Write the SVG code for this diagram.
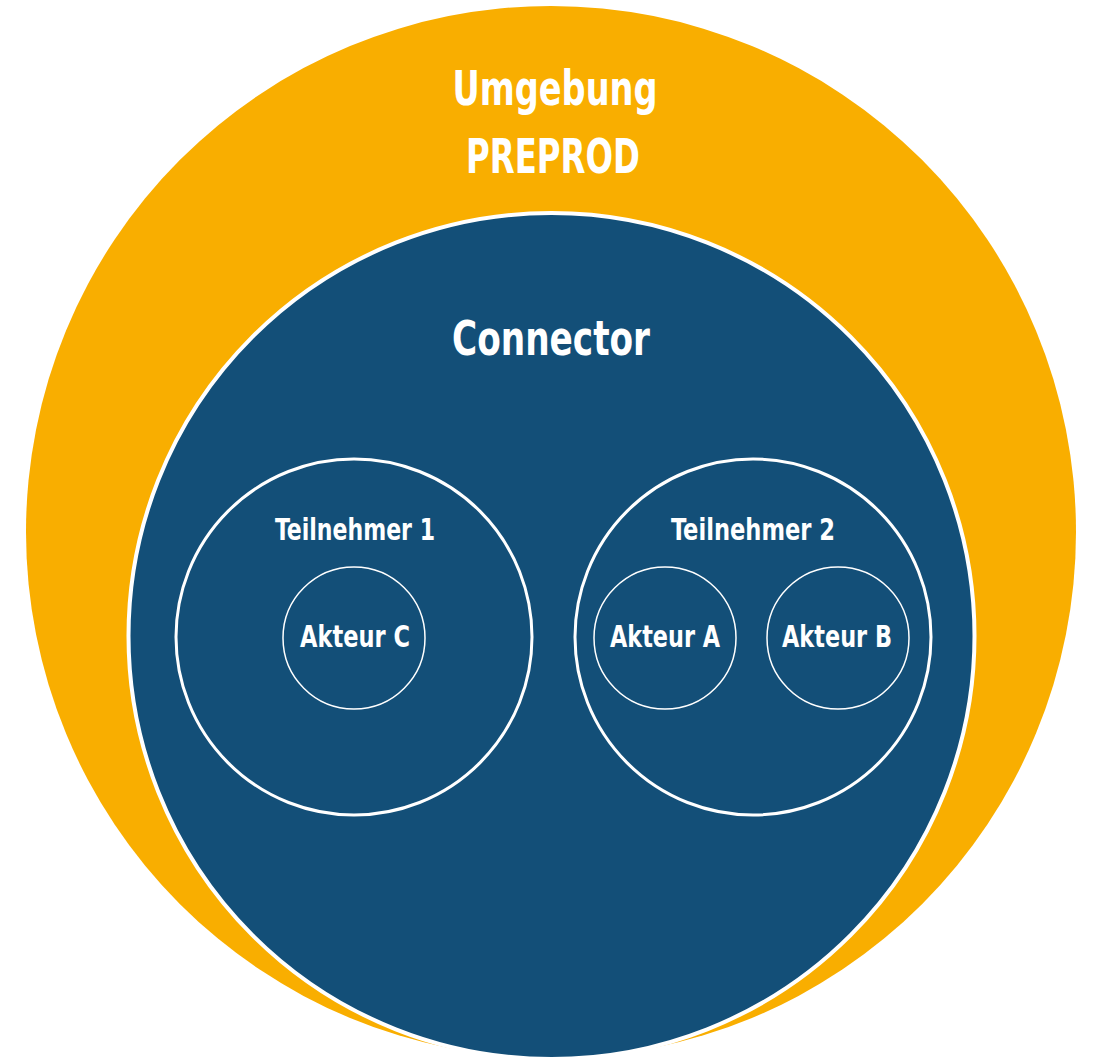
<svg xmlns="http://www.w3.org/2000/svg" width="1103" height="1064" viewBox="0 0 1103 1064">
<style>
text{font-family:"DejaVu Sans Condensed","Roboto","Liberation Sans",sans-serif;fill:#fff;text-anchor:middle;font-weight:bold}
.big{font-size:48px}
.mid{font-size:31px}
.ring{fill:none;stroke:#fff;stroke-width:3}
.small{fill:none;stroke:#fff;stroke-width:1.5}
</style>
<rect width="1103" height="1064" fill="#fff"/>
<g id="umgebung">
<ellipse cx="551" cy="532" rx="525" ry="526" fill="#f9ae00"/>
<text class="big" x="555" y="105" textLength="205" lengthAdjust="spacingAndGlyphs">Umgebung</text>
<text class="big" x="553" y="173" textLength="174" lengthAdjust="spacingAndGlyphs">PREPROD</text>
</g>
<g id="connector">
<circle cx="551.5" cy="636" r="423" fill="#134f78" stroke="#fff" stroke-width="4"/>
<text class="big" x="551" y="355" textLength="198" lengthAdjust="spacingAndGlyphs">Connector</text>
</g>
<g id="teilnehmer1">
<circle class="ring" cx="354" cy="637" r="178"/>
<text class="mid" x="355" y="540" textLength="160" lengthAdjust="spacingAndGlyphs">Teilnehmer 1</text>
</g>
<g id="teilnehmer2">
<circle class="ring" cx="753" cy="637" r="178"/>
<text class="mid" x="753" y="540" textLength="164" lengthAdjust="spacingAndGlyphs">Teilnehmer 2</text>
</g>
<g id="akteurC">
<circle class="small" cx="354" cy="638" r="71"/>
<text class="mid" x="355" y="647" textLength="110" lengthAdjust="spacingAndGlyphs">Akteur C</text>
</g>
<g id="akteurA">
<circle class="small" cx="665" cy="638" r="71"/>
<text class="mid" x="665" y="647" textLength="110" lengthAdjust="spacingAndGlyphs">Akteur A</text>
</g>
<g id="akteurB">
<circle class="small" cx="838" cy="638" r="71"/>
<text class="mid" x="837" y="647" textLength="110" lengthAdjust="spacingAndGlyphs">Akteur B</text>
</g>
<g id="connectors"/>
</svg>
